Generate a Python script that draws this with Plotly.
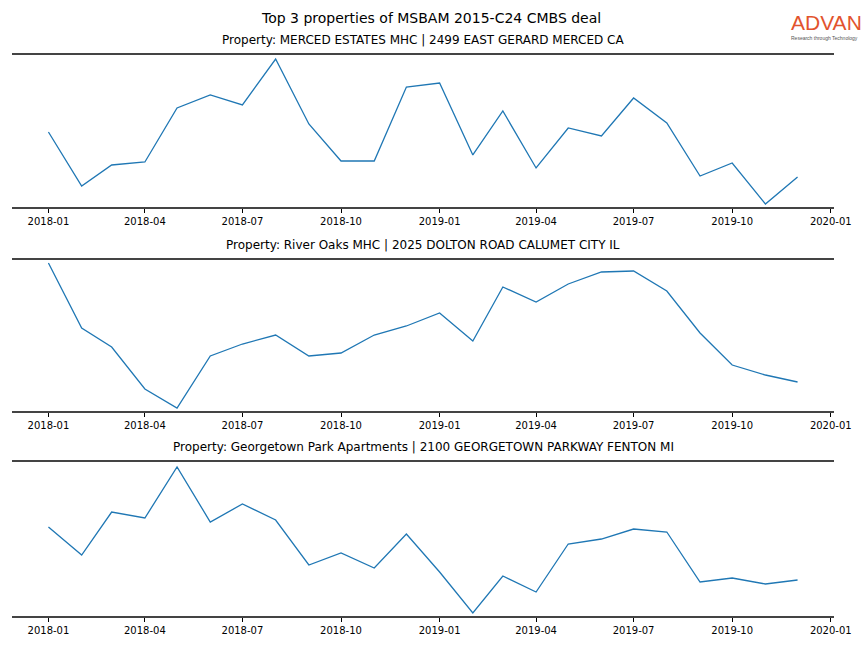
import plotly.graph_objects as go
from plotly.subplots import make_subplots

months = ["2018-01-01","2018-02-01","2018-03-01","2018-04-01","2018-05-01","2018-06-01",
          "2018-07-01","2018-08-01","2018-09-01","2018-10-01","2018-11-01","2018-12-01",
          "2019-01-01","2019-02-01","2019-03-01","2019-04-01","2019-05-01","2019-06-01",
          "2019-07-01","2019-08-01","2019-09-01","2019-10-01","2019-11-01","2019-12-01"]

merced = [75, 21, 42, 45, 99, 112, 102, 148, 83, 46, 46, 120,
          124, 52, 96, 39, 79, 71, 109, 84, 31, 44, 3, 30]
river_oaks = [148, 83, 64, 22, 3, 55, 67, 76, 55, 58, 76, 85,
              98, 70, 124, 109, 127, 139, 140, 120, 78, 46, 36, 29]
georgetown = [89, 61, 104, 98, 149, 94, 112, 96, 51, 63, 48, 82,
              44, 3, 40, 24, 72, 77, 87, 84, 34, 38, 32, 36]

titles = ["Property: MERCED ESTATES MHC | 2499 EAST GERARD MERCED CA",
          "Property: River Oaks MHC | 2025 DOLTON ROAD CALUMET CITY IL",
          "Property: Georgetown Park Apartments | 2100 GEORGETOWN PARKWAY FENTON MI"]
series = [merced, river_oaks, georgetown]
y_ranges = [[0, 152], [0, 151], [0, 154]]

tick_vals = ["2018-01-01","2018-04-01","2018-07-01","2018-10-01","2019-01-01",
             "2019-04-01","2019-07-01","2019-10-01","2020-01-01"]
tick_text = ["2018-01","2018-04","2018-07","2018-10","2019-01",
             "2019-04","2019-07","2019-10","2020-01"]

fig = make_subplots(rows=3, cols=1)
domains = [(0.7291, 1.0), (0.3654, 0.6346), (0.0, 0.2745)]

annotations = []
for i, (vals, title) in enumerate(zip(series, titles)):
    r = i + 1
    fig.add_trace(go.Scatter(x=months, y=vals, mode="lines",
                             line=dict(color="#1f77b4", width=1.3),
                             showlegend=False, hoverinfo="skip"), row=r, col=1)
    ax = "" if r == 1 else str(r)
    fig.update_layout(**{
        f"xaxis{ax}": dict(domain=[0, 1], range=["2017-11-28", "2020-01-04"],
                           tickmode="array", tickvals=tick_vals, ticktext=tick_text,
                           ticks="outside", ticklen=4, tickwidth=1, tickcolor="#000",
                           showgrid=False, zeroline=False, showline=True, mirror=True,
                           linecolor="#444", linewidth=2,
                           tickfont=dict(family="DejaVu Sans", size=10, color="#000")),
        f"yaxis{ax}": dict(domain=list(domains[i]), range=y_ranges[i],
                           visible=False),
    })
    annotations.append(dict(text=title, xref="paper", yref="paper", x=0.5,
                            y=domains[i][1], yshift=6, xanchor="center", yanchor="bottom",
                            showarrow=False,
                            font=dict(family="DejaVu Sans", size=12, color="#000")))

annotations += [
    dict(text="Top 3 properties of MSBAM 2015-C24 CMBS deal",
         xref="paper", yref="paper", x=0.5097, y=1.0, yshift=27,
         xanchor="center", yanchor="bottom", showarrow=False,
         font=dict(family="DejaVu Sans", size=14, color="#000")),
    dict(text="ADVAN", xref="paper", yref="paper", x=1.0, xshift=-45,
         y=1.0, yshift=19, xanchor="left", yanchor="bottom", showarrow=False,
         font=dict(family="Liberation Sans", size=21, color="#e2532d")),
    dict(text="Research through Technology", xref="paper", yref="paper", x=1.0,
         xshift=-45, y=1.0, yshift=12, xanchor="left", yanchor="bottom",
         showarrow=False,
         font=dict(family="Liberation Sans", size=5, color="#555")),
]

fig.update_layout(
    width=864, height=648,
    margin=dict(l=12, r=28, t=55, b=32),
    paper_bgcolor="white", plot_bgcolor="white",
    annotations=annotations,
)

fig.write_html("out.html", post_script="document.body.style.margin='0';",
               config={"displayModeBar": False})
